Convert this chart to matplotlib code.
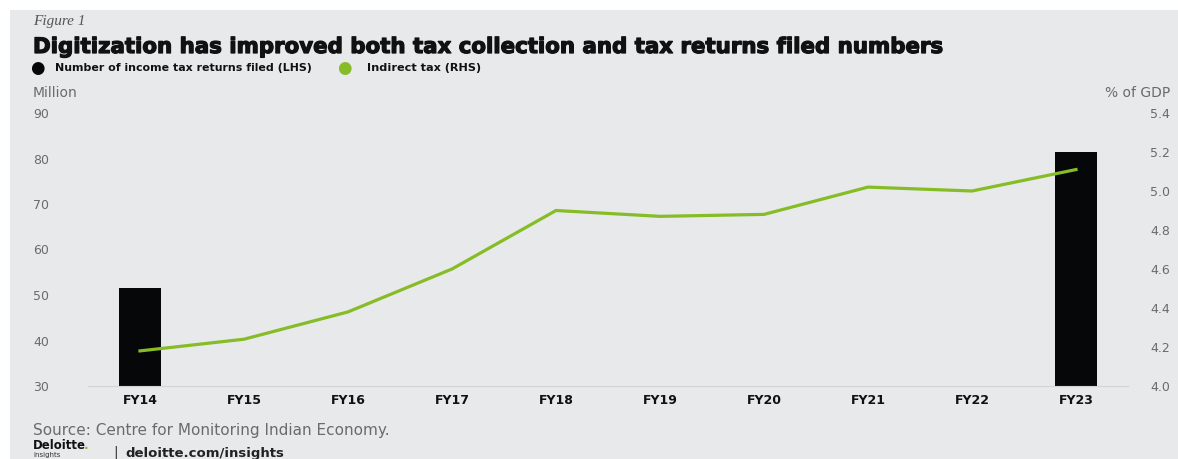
"""
Digitization vs tax collection chart
"""

import numpy as np
import matplotlib.pyplot as plt
import matplotlib.patheffects as pe
from matplotlib.patches import Rectangle

plt.rcParams['font.family'] = ['DejaVu Sans']

# data
years = ['FY14', 'FY15', 'FY16', 'FY17', 'FY18', 'FY19', 'FY20', 'FY21', 'FY22', 'FY23']
returns_filed = [51.5, np.nan, np.nan, np.nan, np.nan, np.nan, np.nan, np.nan, np.nan, 81.5]
indirect_tax = [4.18, 4.24, 4.38, 4.60, 4.90, 4.87, 4.88, 5.02, 5.00, 5.11]

green = '#86BC25'
grey_txt = '#6b6b6b'
bg = '#E8E9EB'

W, H = 1178, 459
fig = plt.figure(figsize=(W / 100, H / 100), dpi=100)
fig.patch.set_facecolor('white')
fig.patches.append(Rectangle((10 / W, 0), 1, 1 - 10 / H, transform=fig.transFigure,
                             facecolor=bg, edgecolor='none', zorder=-10))

ax = fig.add_axes([88 / W, 1 - 386 / H, 1040 / W, 273 / H])
ax.set_facecolor('none')
x = np.arange(len(years))
ax.bar(x, returns_filed, width=0.4, color='#050708', zorder=2)
ax.set_xlim(-0.5, len(years) - 0.5)
ax.set_ylim(30, 90)
ax.set_yticks(range(30, 91, 10))
ax.set_xticks(x)
ax.set_xticklabels(years, fontsize=9, fontweight='bold', color='#111111')
ax.tick_params(axis='x', length=0, pad=6)
ax.tick_params(axis='y', length=0, pad=39.6, labelsize=9, labelcolor=grey_txt)
for lab in ax.get_yticklabels():
    lab.set_horizontalalignment('left')
for s in ['top', 'right', 'left']:
    ax.spines[s].set_visible(False)
ax.spines['bottom'].set_color('#d2d3d5')
ax.spines['bottom'].set_linewidth(0.8)

ax2 = ax.twinx()
ax2.plot(x, indirect_tax, color=green, linewidth=2.3, zorder=3)
ax2.set_ylim(4.0, 5.4)
ax2.set_yticks(np.arange(4.0, 5.41, 0.2))
ax2.set_yticklabels([f'{v:.1f}' for v in np.arange(4.0, 5.41, 0.2)])
ax2.tick_params(axis='y', length=0, pad=30.2, labelsize=9, labelcolor=grey_txt)
for lab in ax2.get_yticklabels():
    lab.set_horizontalalignment('right')
for s in ax2.spines.values():
    s.set_visible(False)

# texts
fig.text(33 / W, 1 - 22 / H, 'Figure 1', fontsize=11, style='italic', color='#555555',
         family=['Liberation Serif', 'DejaVu Serif'], va='center')
fig.text(33 / W, 1 - 47 / H, 'Digitization has improved both tax collection and tax returns filed numbers',
         fontsize=15.35, fontweight='heavy', color='#111111', va='center',
         path_effects=[pe.withStroke(linewidth=0.9, foreground='#111111')])
fig.text(30 / W, 1 - 68 / H, '\u25CF', fontsize=12, color='#050708', va='center')
fig.text(55 / W, 1 - 68 / H, 'Number of income tax returns filed (LHS)', fontsize=7.9,
         fontweight='bold', color='#111111', va='center')
fig.text(337 / W, 1 - 68 / H, '\u25CF', fontsize=12, color=green, va='center')
fig.text(367 / W, 1 - 68 / H, 'Indirect tax (RHS)', fontsize=8.1,
         fontweight='bold', color='#111111', va='center')
fig.text(33 / W, 1 - 93 / H, 'Million', fontsize=10, color=grey_txt, va='center')
fig.text(1170 / W, 1 - 93 / H, '% of GDP', fontsize=10, color=grey_txt, va='center', ha='right')
fig.text(33 / W, 1 - 431 / H, 'Source: Centre for Monitoring Indian Economy.', fontsize=11,
         color=grey_txt, va='center')
fig.text(33 / W, 1 - 452 / H, 'Deloitte', fontsize=8.5, fontweight='heavy', color='#111111',
         va='bottom')
fig.text(84 / W, 1 - 452 / H, '.', fontsize=8.5, fontweight='heavy', color=green, va='bottom')
fig.text(33 / W, 1 - 452.5 / H, 'insights', fontsize=5, color='#333333', va='top')
fig.text(113 / W, 1 - 453 / H, '|', fontsize=10, color='#333333', va='center')
fig.text(125 / W, 1 - 453 / H, 'deloitte.com/insights', fontsize=9.5, color='#222222', va='center',
         fontweight='bold')

plt.savefig('out.png', dpi=100, facecolor=fig.get_facecolor())
